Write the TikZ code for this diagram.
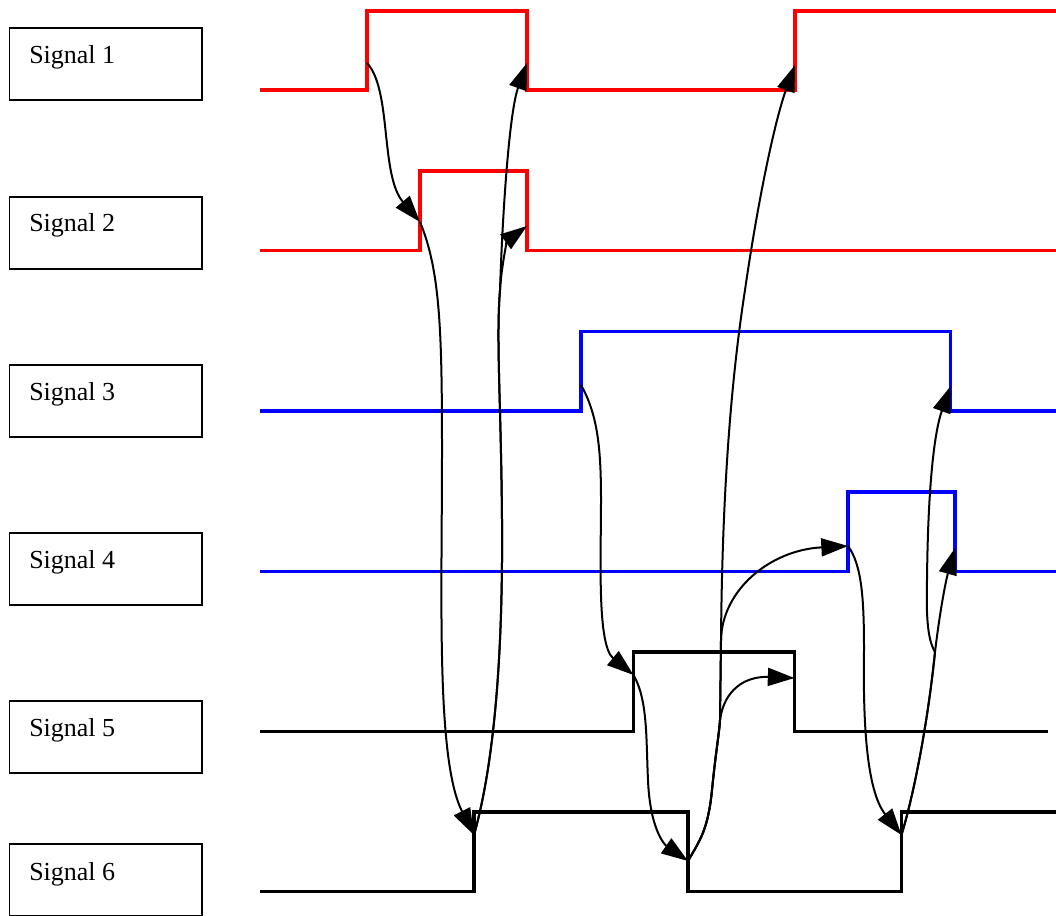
\documentclass[tikz,border=0pt]{standalone}
\usepackage{fontspec}
\setmainfont{Liberation Serif}
\usetikzlibrary{arrows.meta}
\begin{document}
\begin{tikzpicture}[x=0.75pt,y=-0.75pt,
  sigbox/.style={draw=black,line width=1.4pt,minimum width=144.5pt,minimum height=54pt,inner sep=0pt,anchor=north west},
  siglabel/.style={anchor=base west,inner sep=0pt,font=\fontsize{19.5pt}{23pt}\selectfont},
  wave/.style={line width=2.3pt,line join=miter},
  conn/.style={draw=black,line width=1.5pt,-{Triangle[length=20pt,width=13.5pt]}}]
\useasboundingbox (0,0) rectangle (1056,916);
% label boxes
\node[sigbox] (b1) at (8.5,27.5) {};
\node[sigbox] (b2) at (8.5,196) {};
\node[sigbox] (b3) at (8.5,364) {};
\node[sigbox] (b4) at (8.5,532) {};
\node[sigbox] (b5) at (8.5,700) {};
\node[sigbox] (b6) at (8.5,843) {};
\node[siglabel] (t1) at (29,63.3) {Signal 1};
\node[siglabel] (t2) at (29,232) {Signal 2};
\node[siglabel] (t3) at (29,400) {Signal 3};
\node[siglabel] (t4) at (29,568) {Signal 4};
\node[siglabel] (t5) at (29,736) {Signal 5};
\node[siglabel] (t6) at (29,880.5) {Signal 6};
% waveforms
\draw[wave,red] (260,90) -- (367,90) -- (367,11) -- (527,11) -- (527,90) -- (795,90) -- (795,11) -- (1056,11);
\draw[wave,red] (260,250.5) -- (420,250.5) -- (420,171) -- (527,171) -- (527,250.5) -- (1056,250.5);
\draw[wave,blue] (260,411) -- (581,411) -- (581,331.5) -- (950.7,331.5) -- (950.7,411) -- (1056,411);
\draw[wave,blue] (260,571.5) -- (848,571.5) -- (848,492) -- (955,492) -- (955,571.5) -- (1056,571.5);
\draw[wave,black] (260,731.5) -- (633.5,731.5) -- (633.5,652) -- (794.5,652) -- (794.5,731.5) -- (1048,731.5);
\draw[wave,black] (260,891.5) -- (474,891.5) -- (474,812) -- (688,812) -- (688,891.5) -- (901.5,891.5) -- (901.5,812) -- (1056,812);
% edge points
\coordinate (s1r) at (367,63);
\coordinate (s2r) at (420,222);
\coordinate (s1f) at (527,63);
\coordinate (s2f) at (527,226);
\coordinate (s3r) at (581,385);
\coordinate (s5r) at (633.5,675);
\coordinate (s6r) at (474,835);
\coordinate (s6f) at (688,861);
\coordinate (s5f) at (794.5,678);
\coordinate (s4r) at (848,546);
\coordinate (s1rb) at (795,65);
\coordinate (s6rb) at (901.5,835);
\coordinate (s4f) at (955,548);
\coordinate (s3f) at (950.7,386);
% connectors
\draw[conn] (s1r) .. controls (392,90) and (380,175) .. (s2r);
\draw[conn] (s2r) .. controls (440,270) and (442,330) .. (442,450) .. controls (442,600) and (436,760) .. (s6r);
\draw[conn] (s6r) .. controls (495,760) and (503,650) .. (502,520) .. controls (501,400) and (496,340) .. (500,290) .. controls (503,200) and (510,110) .. (s1f);
\draw[conn] (s6r) .. controls (495,760) and (503,650) .. (502,520) .. controls (501,400) and (496,340) .. (500,290) .. controls (502,260) and (508,240) .. (s2f);
\draw[conn] (s3r) .. controls (598,415) and (601,450) .. (601,500) .. controls (601,560) and (597,645) .. (s5r);
\draw[conn] (s5r) .. controls (648,700) and (646,740) .. (648,780) .. controls (650,830) and (665,845) .. (s6f);
\draw[conn] (s6f) .. controls (700,840) and (708,830) .. (712,790) .. controls (716,750) and (719,735) .. (720,720) .. controls (724,690) and (745,676) .. (s5f);
\draw[conn] (s6f) .. controls (700,840) and (708,830) .. (712,790) .. controls (716,750) and (719,735) .. (720,720) -- (721,640) .. controls (722,590) and (770,550) .. (s4r);
\draw[conn] (s6f) .. controls (700,840) and (708,830) .. (712,790) .. controls (716,750) and (719,735) .. (720,720) -- (721,640) .. controls (722,520) and (728,400) .. (745,290) .. controls (758,200) and (775,120) .. (s1rb);
\draw[conn] (s4r) .. controls (862,565) and (864,600) .. (864,650) .. controls (863,720) and (866,790) .. (s6rb);
\draw[conn] (s6rb) .. controls (915,790) and (928,720) .. (935,652) .. controls (940,610) and (946,580) .. (s4f);
\draw[conn] (s6rb) .. controls (915,790) and (928,720) .. (935,652) .. controls (928,640) and (926,620) .. (927,580) .. controls (928,480) and (935,430) .. (s3f);
\end{tikzpicture}
\end{document}
